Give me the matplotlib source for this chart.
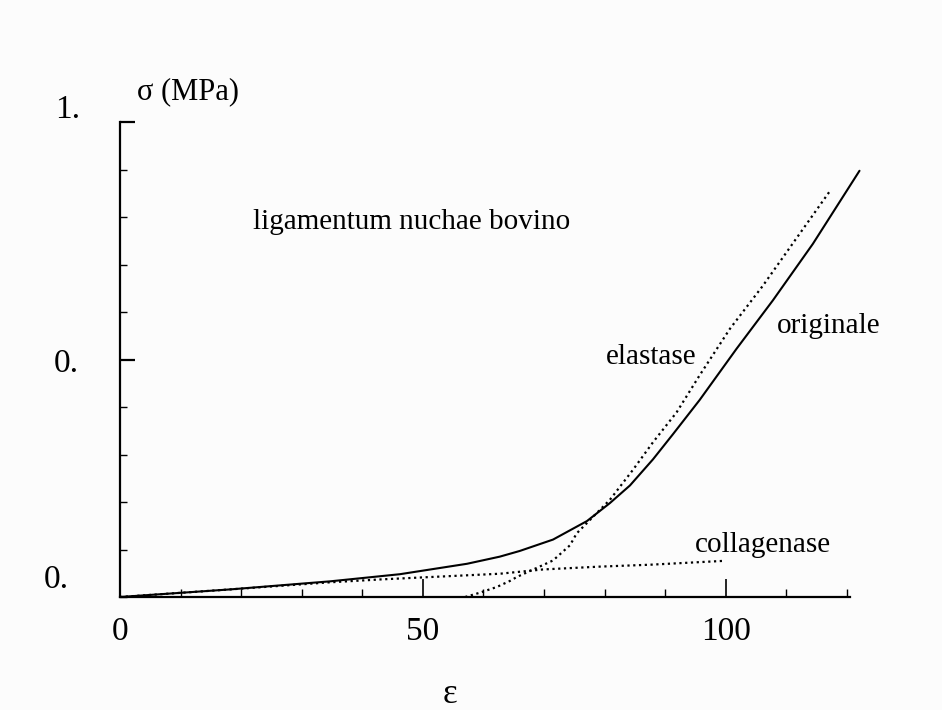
import matplotlib
matplotlib.use("Agg")
import matplotlib.pyplot as plt
import numpy as np

# Stress-strain curves for bovine ligamentum nuchae
strain_orig = [0, 18.2, 34.7, 46.2, 57.3, 62.7, 66, 71.5, 77.1, 80.9, 84.2, 88, 91.3,
               95.7, 101.8, 107.8, 114.4, 122.1]
stress_orig = [0, 0.016, 0.033, 0.048, 0.070, 0.085, 0.097, 0.121, 0.160, 0.198, 0.235,
               0.290, 0.343, 0.415, 0.523, 0.625, 0.744, 0.898]

strain_elast = [57, 59.4, 62.2, 64.4, 65.5, 71.5, 74.3, 75.4, 80.9, 84.7, 88, 91.9,
                95.7, 100.7, 106.1, 111.7, 117.2]
stress_elast = [0, 0.009, 0.021, 0.034, 0.042, 0.077, 0.109, 0.134, 0.205, 0.268, 0.326,
                0.389, 0.467, 0.565, 0.655, 0.756, 0.855]

strain_coll = [0, 18.2, 34.7, 43, 49.5, 62.7, 69.8, 79.2, 87.5, 99.5]
stress_coll = [0, 0.016, 0.031, 0.037, 0.041, 0.049, 0.058, 0.064, 0.068, 0.076]

xticks_major = [0, 50, 100]
xtick_labels = ["0", "50", "100"]

serif = ["Liberation Serif", "DejaVu Serif"]
plt.rcParams["font.family"] = serif

fig = plt.figure(figsize=(9.42, 7.10), dpi=100)
fig.patch.set_facecolor("#fcfcfc")
ax = fig.add_axes([120 / 942, 1 - 597 / 710, 751 / 942, 477 / 710])
ax.set_facecolor("none")

ax.plot(strain_orig, stress_orig, color="black", lw=1.5, solid_capstyle="round",
        solid_joinstyle="round")
ax.plot(strain_elast, stress_elast, color="black", lw=1.6, linestyle=(0, (1, 1.6)))
ax.plot(strain_coll, stress_coll, color="black", lw=1.6, linestyle=(0, (1, 1.6)))

ax.set_xlim(0, 124)
ax.set_ylim(0, 1.005)

for s in ("top", "right"):
    ax.spines[s].set_visible(False)
ax.spines["left"].set_bounds(0, 1.0)
ax.spines["bottom"].set_bounds(0, 120.5)
for s in ("left", "bottom"):
    ax.spines[s].set_linewidth(1.6)

ax.set_xticks(xticks_major)
ax.set_xticklabels(xtick_labels, fontsize=24)
ax.set_xticks(np.arange(0, 121, 10), minor=True)
ax.tick_params(axis="x", which="major", direction="in", length=13, width=1.2, pad=14)
ax.tick_params(axis="x", which="minor", direction="in", length=6, width=1.0)

ax.set_yticks([0.5, 1.0])
ax.set_yticklabels([])
ax.set_yticks(np.arange(0, 1.01, 0.1), minor=True)
ax.tick_params(axis="y", which="major", direction="in", length=11, width=1.6)
ax.tick_params(axis="y", which="minor", direction="in", length=5, width=1.0)

# y-axis value labels (truncated in the printed figure)
ax.text(-0.069, 1.021, "1.", transform=ax.transAxes, fontsize=24, ha="center", va="center")
ax.text(-0.071, 0.49, "0.", transform=ax.transAxes, fontsize=24, ha="center", va="center")
ax.text(-0.085, 0.036, "0.", transform=ax.transAxes, fontsize=24, ha="center", va="center")

ax.text(0.023, 1.06, "σ (MPa)", transform=ax.transAxes, fontsize=22, ha="left", va="center")
ax.text(0.439, -0.205, "ε", transform=ax.transAxes, fontsize=25, ha="center", va="center")

ax.text(22, 0.79, "ligamentum nuchae bovino", fontsize=21, ha="left", va="center")
ax.text(80.3, 0.505, "elastase", fontsize=21, ha="left", va="center")
ax.text(108.5, 0.57, "originale", fontsize=21, ha="left", va="center")
ax.text(95, 0.11, "collagenase", fontsize=21, ha="left", va="center")

fig.savefig("out.png", dpi=100, facecolor=fig.get_facecolor())
